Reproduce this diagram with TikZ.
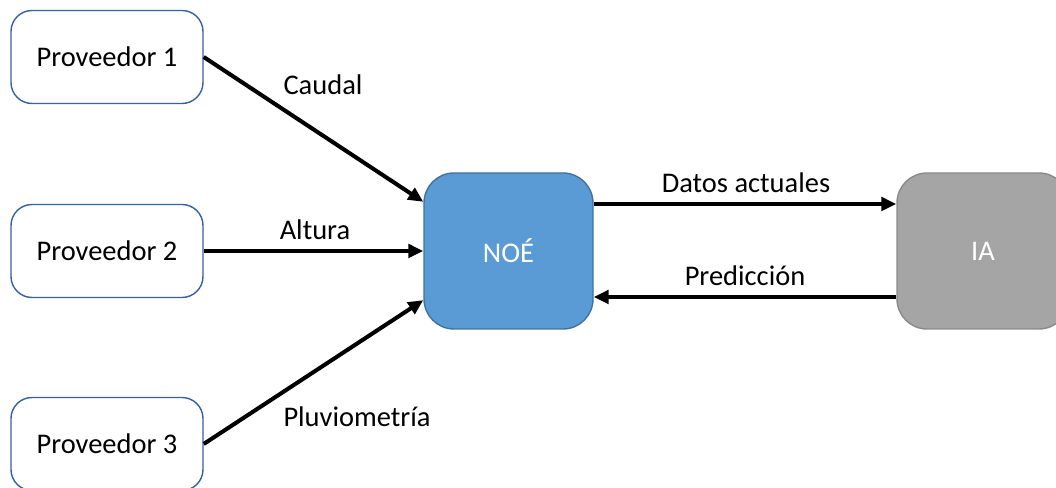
\documentclass[tikz,border=0pt]{standalone}
\usepackage{fontspec}
\setmainfont{Carlito}
\usepackage{tikz}
\usetikzlibrary{arrows.meta}
\definecolor{provline}{HTML}{3560A8}
\definecolor{noefill}{HTML}{5B9BD5}
\definecolor{noeline}{HTML}{41719C}
\definecolor{iafill}{HTML}{A5A5A5}
\definecolor{ialine}{HTML}{8A8A8A}
\tikzset{>={Triangle[length=0.3cm,width=0.27cm]}}
\tikzset{
    prov/.style={draw=provline,line width=0.8pt,rounded corners=0.42cm,fill=white,
        minimum width=3.84cm,minimum height=1.86cm,inner sep=0pt},
    caja/.style={rounded corners=0.6cm,line width=0.8pt,text=white,
        minimum width=3.38cm,minimum height=3.12cm,inner sep=0pt},
    flecha/.style={line width=2.3pt,->},
}

\begin{document}
\begin{tikzpicture}[font=\fontsize{16.2}{19}\selectfont]
        \useasboundingbox (0,0) rectangle (21.12,9.76);
        %%%
        \node[prov] (prov1) at (2.14,8.62) {Proveedor 1};
        \node[prov] (prov2) at (2.14,4.74) {Proveedor 2};
        \node[prov] (prov3) at (2.14,0.88) {Proveedor 3};
        %%%
        \node[caja,fill=noefill,draw=noeline] (noe) at (10.17,4.74) {NOÉ};
        \node[caja,fill=iafill,draw=ialine,minimum width=3.44cm] (ia) at (19.66,4.74) {IA};
        %%%
        \draw[flecha] (prov1.east) -- (noe.150);
        \draw[flecha] (prov2.east) -- (noe.west);
        \draw[flecha] (prov3.east) -- (noe.210);
        \draw[flecha] ([yshift=0.94cm]noe.east) -- ([yshift=0.94cm]ia.west);
        \draw[flecha] ([yshift=-0.92cm]ia.west) -- ([yshift=-0.92cm]noe.east);
        %%%
        \node (caudal) at (6.46,8.06) {Caudal};
        \node (altura) at (6.30,5.16) {Altura};
        \node (pluvio) at (7.14,1.42) {Pluviometría};
        \node (datos) at (14.92,6.10) {Datos actuales};
        \node (pred) at (14.90,4.24) {Predicción};
        %%%
    \end{tikzpicture}
\end{document}
